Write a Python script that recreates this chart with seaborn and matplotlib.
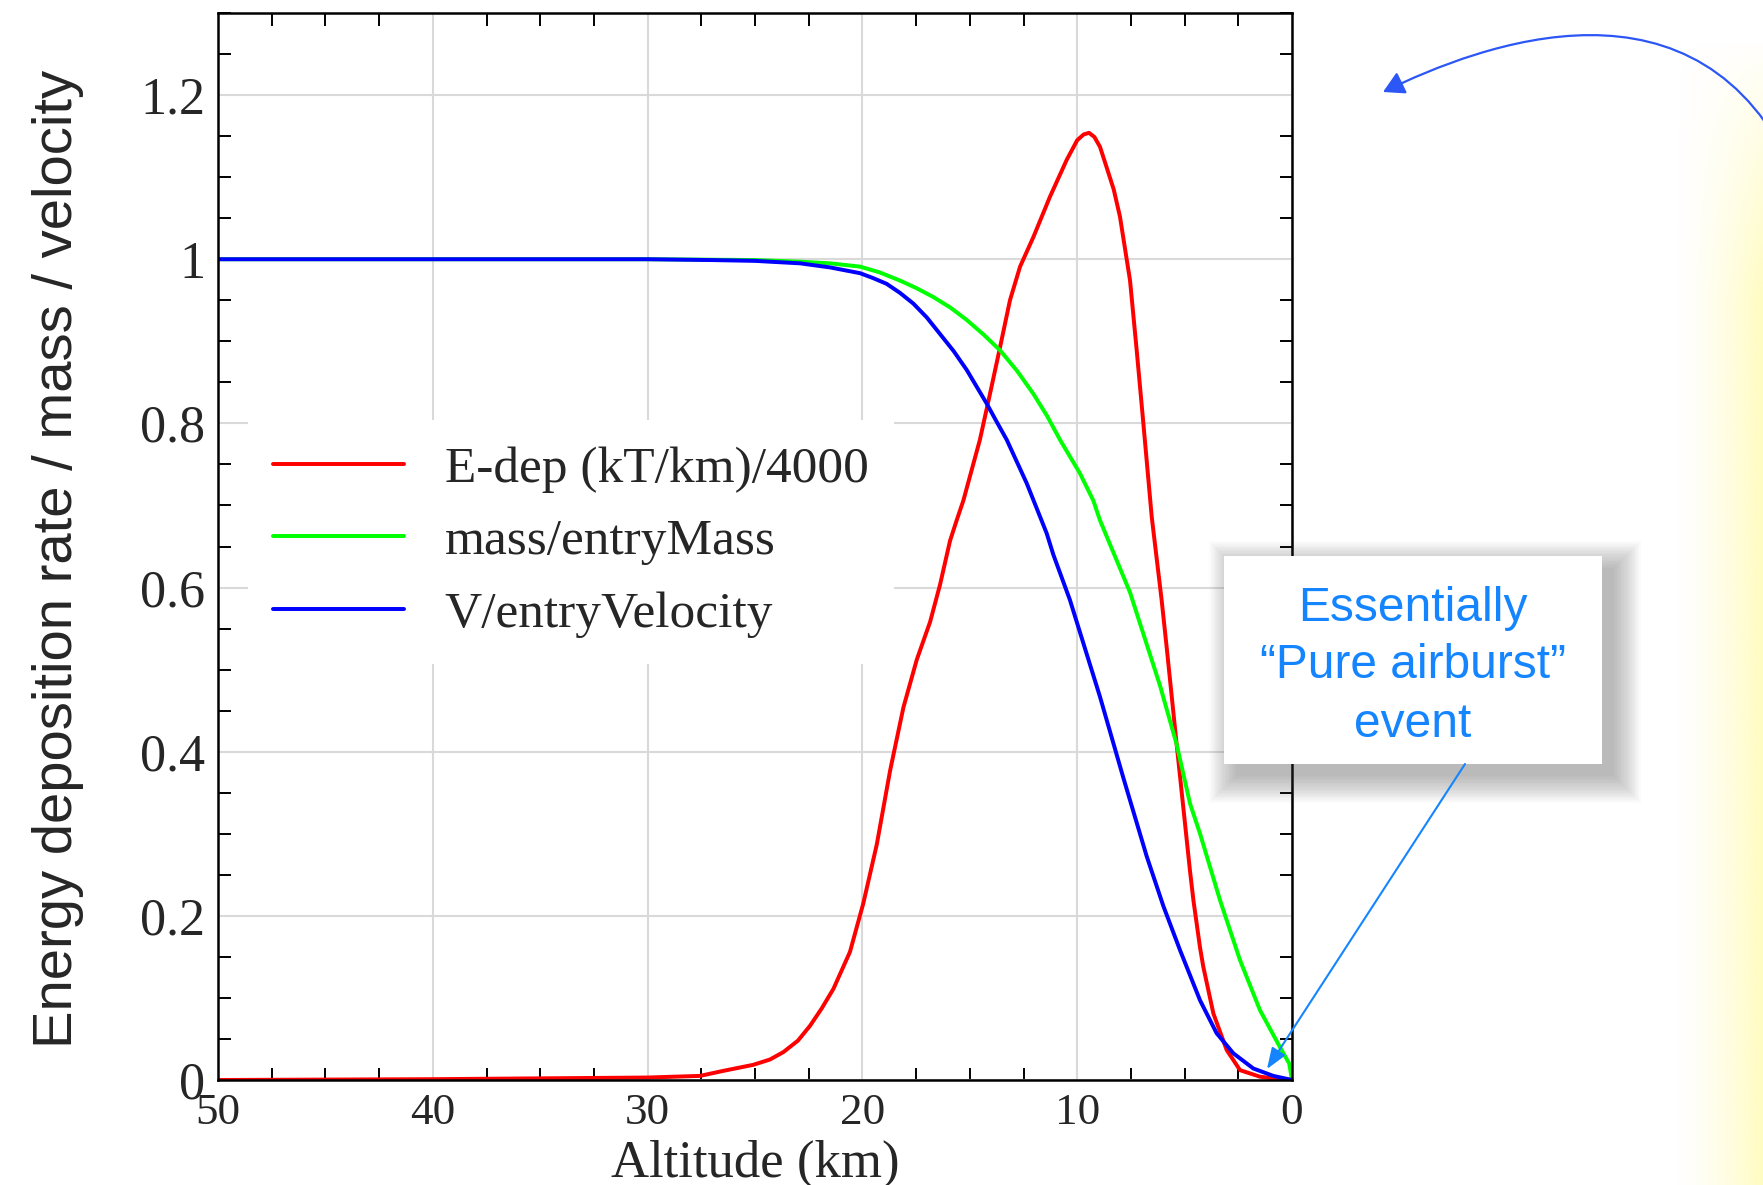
import numpy as np
import pandas as pd
import matplotlib
matplotlib.use("Agg")
import matplotlib.pyplot as plt
import seaborn as sns
from matplotlib.patches import FancyArrowPatch, Rectangle
from matplotlib.path import Path
from matplotlib.ticker import MultipleLocator

# ---------------- data ----------------
edep_alt = [50, 45, 40, 35, 30, 27.56, 26.5, 25.08, 24.3, 23.68, 23.0, 22.44, 21.9, 21.35,
            20.58, 19.96, 19.33, 18.71, 18.09, 17.47, 16.85, 16.39, 15.92, 15.61, 15.3,
            14.53, 14.06, 13.59, 13.13, 12.66, 12.04, 11.27, 10.49, 10.0, 9.7, 9.45, 9.2,
            8.94, 8.63, 8.3, 8.01, 7.54, 7.23, 6.92, 6.53, 6.07, 5.83, 5.37, 4.75, 4.59,
            4.28, 4.13, 3.66, 3.04, 2.42, 1.49, 0.56, 0.0]
edep_val = [0.0, 0.0005, 0.001, 0.002, 0.003, 0.005, 0.011, 0.0185, 0.025, 0.034, 0.048, 0.066,
            0.087, 0.111, 0.156, 0.215, 0.287, 0.377, 0.454, 0.512, 0.558, 0.603, 0.657,
            0.682, 0.706, 0.780, 0.836, 0.893, 0.950, 0.991, 1.027, 1.076, 1.121, 1.145,
            1.152, 1.154, 1.149, 1.137, 1.112, 1.085, 1.052, 0.974, 0.889, 0.800, 0.686,
            0.585, 0.526, 0.409, 0.255, 0.219, 0.161, 0.138, 0.081, 0.0365, 0.012, 0.004,
            0.001, 0.0]

mass_alt = [50, 40, 30, 25, 22.9, 21.5, 20.11, 19.2, 18.25, 17.5, 16.70, 15.9, 15.14, 14.35,
            13.59, 12.8, 12.04, 11.4, 10.8, 9.87, 9.25, 8.94, 8.16, 7.54, 6.84, 6.15, 5.37,
            4.75, 4.28, 3.35, 2.42, 1.49, 0.56, 0.13, 0.0]
mass_val = [1.0, 1.0, 1.0, 0.999, 0.997, 0.995, 0.991, 0.984, 0.974, 0.965, 0.954, 0.941, 0.926,
            0.908, 0.889, 0.864, 0.836, 0.809, 0.780, 0.739, 0.706, 0.682, 0.633, 0.594,
            0.537, 0.481, 0.409, 0.337, 0.300, 0.219, 0.146, 0.085, 0.040, 0.020, 0.0]

vel_alt = [50, 40, 30, 27, 25, 22.9, 21.5, 20.11, 19.5, 18.87, 18.25, 17.63, 17.0, 16.39, 15.75,
           15.14, 14.21, 13.75, 13.28, 12.35, 11.42, 11.11, 10.34, 10.02, 8.94, 7.85, 6.77,
           5.99, 5.21, 4.28, 3.51, 2.73, 1.80, 0.87, 0.0]
vel_val = [1.0, 1.0, 1.0, 0.999, 0.998, 0.995, 0.990, 0.983, 0.977, 0.970, 0.959, 0.946, 0.929,
           0.909, 0.888, 0.865, 0.824, 0.802, 0.780, 0.727, 0.666, 0.640, 0.585, 0.558,
           0.467, 0.368, 0.273, 0.212, 0.158, 0.097, 0.057, 0.0325, 0.014, 0.005, 0.0]

series_labels = ["E-dep (kT/km)/4000", "mass/entryMass", "V/entryVelocity"]
series_colors = ["#ff0000", "#00ff00", "#0000ff"]

x_ticks = [50, 40, 30, 20, 10, 0]
x_tick_labels = ["50", "40", "30", "20", "10", "0"]
y_ticks = [0, 0.2, 0.4, 0.6, 0.8, 1.0, 1.2]
y_tick_labels = ["0", "0.2", "0.4", "0.6", "0.8", "1", "1.2"]
x_label = "Altitude (km)"
y_label = "Energy deposition rate / mass / velocity"
callout_lines = ["Essentially", "\u201cPure airburst\u201d", "event"]

# ---------------- figure ----------------
sns.set_style("white")
SERIF = ["Liberation Serif", "DejaVu Serif"]
SANS = ["Liberation Sans", "DejaVu Sans"]
plt.rcParams["font.family"] = SERIF

W, H = 1763, 1185
fig = plt.figure(figsize=(W / 100, H / 100), dpi=100)
fig.patch.set_facecolor("white")


def fx(px):
    return px / W


def fy(py):
    return 1 - py / H


# yellow glow at the right edge (decoration)
gx0 = 1675
gax = fig.add_axes([fx(gx0), 0, (W - gx0) / W, 1], zorder=0)
gax.set_axis_off()
nx, ny = 120, 300
xs = np.linspace(0, 1, nx)[None, :]
ys = np.linspace(0, H, ny)[:, None]
alpha = (xs ** 1.4) * np.clip((ys - 40) / 260, 0, 1) ** 0.8
img = np.zeros((ny, nx, 4))
img[..., 0] = 1.0
img[..., 1] = 252 / 255
img[..., 2] = 190 / 255
img[..., 3] = alpha * 0.95
gax.imshow(img, aspect="auto", extent=[0, 1, 1, 0])
gax.set_xlim(0, 1)
gax.set_ylim(1, 0)

# main axes
ax = fig.add_axes([fx(218), fy(1080), 1074 / W, 1067 / H], zorder=2)

frames = []
for lab, a, v in zip(series_labels, [edep_alt, mass_alt, vel_alt], [edep_val, mass_val, vel_val]):
    frames.append(pd.DataFrame({"alt": a, "val": v, "series": lab}))
df = pd.concat(frames, ignore_index=True)

LW = 2.85
sns.lineplot(data=df, x="alt", y="val", hue="series", hue_order=series_labels,
             palette=dict(zip(series_labels, series_colors)), estimator=None, sort=False,
             linewidth=LW, ax=ax, legend=True)
for ln in ax.get_lines():
    ln.set_solid_joinstyle("round")

ax.set_xlim(50, 0)
ax.set_ylim(0, 1.3)
ax.set_xticks(x_ticks, labels=x_tick_labels)
ax.set_yticks(y_ticks, labels=y_tick_labels)
ax.xaxis.set_minor_locator(MultipleLocator(2.5))
ax.yaxis.set_minor_locator(MultipleLocator(0.05))
ax.tick_params(which="major", length=0)
ax.tick_params(axis="x", which="major", labelsize=32.5, pad=9.5)
ax.tick_params(axis="y", which="major", labelsize=37.5, pad=9)
ax.tick_params(which="minor", direction="in", length=9, width=1.4, color="black",
               top=True, right=True, bottom=True, left=True)
for lab in ax.get_xticklabels() + ax.get_yticklabels():
    lab.set_family(SERIF)

ax.grid(True, which="major", color="#d9d9d9", linewidth=1.5)
ax.set_axisbelow(True)
for sp in ax.spines.values():
    sp.set_visible(True)
    sp.set_color("black")
    sp.set_linewidth(1.8)

ax.set_xlabel(x_label, fontsize=38, family=SERIF)
ax.xaxis.set_label_coords(0.5, -0.056)
ax.set_ylabel(y_label, fontsize=40.5, family=SANS)
ax.yaxis.set_label_coords(-0.125, 0.488)

handles, labels = ax.get_legend_handles_labels()
for h in handles:
    h.set_linewidth(LW)
leg = ax.legend(handles, labels, loc="upper left", bbox_to_anchor=(0.0275, 0.6186),
                borderaxespad=0, frameon=True, fancybox=False, facecolor="white",
                edgecolor="white", framealpha=1, prop={"family": SERIF, "size": 37},
                handlelength=2.55, handletextpad=0.79, labelspacing=0.5, borderpad=0.5)
leg.get_frame().set_linewidth(0)

# ---------------- callout ----------------
BLUE_TXT = "#1485ff"
bx0, by0, bx1, by1 = 1224, 556, 1602, 764
for i in range(20):
    g = i * 1.4
    fig.add_artist(Rectangle((fx(bx0 + 12 - g), fy(by1 + 12 + g)),
                             (bx1 - bx0 + 2 * g) / W, (by1 - by0 + 2 * g) / H,
                             transform=fig.transFigure, facecolor="#444444",
                             edgecolor="none", alpha=0.018, zorder=5))
fig.add_artist(Rectangle((fx(bx0), fy(by1)), (bx1 - bx0) / W, (by1 - by0) / H,
                         transform=fig.transFigure, facecolor="white", edgecolor="none",
                         zorder=6))
for txt, base in zip(callout_lines, [621, 678, 737]):
    fig.text(fx(1413), fy(base), txt, ha="center", va="baseline", fontsize=34.5,
             family=SANS, color=BLUE_TXT, zorder=7)

fig.add_artist(FancyArrowPatch((fx(1465), fy(764)), (fx(1267), fy(1069)),
                               transform=fig.transFigure,
                               arrowstyle="-|>,head_length=0.8,head_width=0.3",
                               mutation_scale=16, lw=1.5, color=BLUE_TXT,
                               shrinkA=0, shrinkB=0, zorder=8))

# curved arrow at the top right (cubic curve, pixel control points)
ARC = "#2c56f6"
arc_pts = [(1795, 175), (1700, -40), (1480, 45), (1383, 92)]
arc_path = Path([(fx(px), fy(py)) for px, py in arc_pts],
                [Path.MOVETO, Path.CURVE4, Path.CURVE4, Path.CURVE4])
fig.add_artist(FancyArrowPatch(path=arc_path, transform=fig.transFigure,
                               arrowstyle="-|>,head_length=0.8,head_width=0.45",
                               mutation_scale=16, lw=1.6, color=ARC, zorder=8))

fig.savefig("out.png", dpi=100, facecolor="white")
